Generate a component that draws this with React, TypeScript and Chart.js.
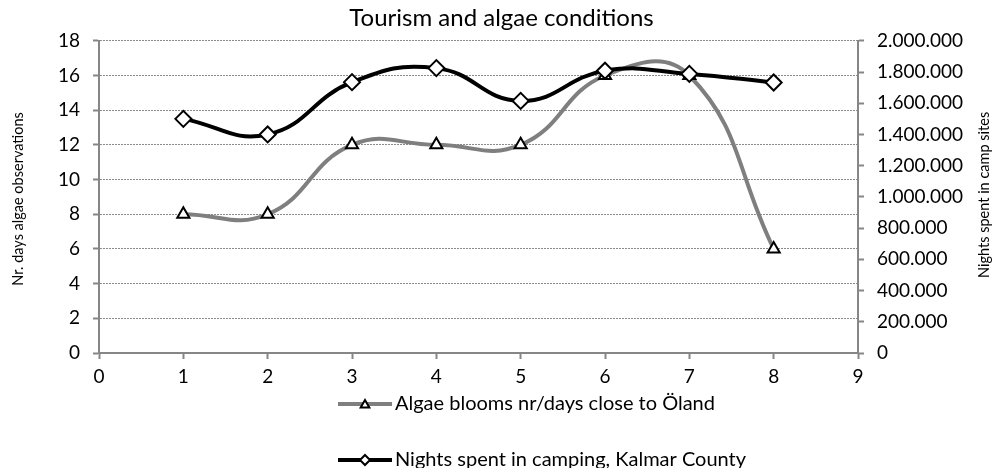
import { useEffect, useRef } from 'react';
import { Chart, registerables } from 'chart.js';

Chart.register(...registerables);

const xValues = [1, 2, 3, 4, 5, 6, 7, 8];
const algaeDays = [8, 8, 12, 12, 12, 16, 16, 6];
const campingNights = [1500000, 1400000, 1735000, 1825000, 1615000, 1808000, 1788000, 1733000];

const titleText = 'Tourism and algae conditions';
const leftTitle = 'Nr. days algae observations';
const rightTitle = 'Nights spent in camp sites';
const algaeLabel = 'Algae blooms nr/days close to Öland';
const nightsLabel = 'Nights spent in camping, Kalmar County';

const FONT = 'Lato, "Open Sans", sans-serif';
const AXIS_GRAY = '#868686';
const ALGAE_GRAY = '#7f7f7f';

const fmt = (n: number) => String(Math.round(n)).replace(/\B(?=(\d{3})+(?!\d))/g, '.');

function drawTriangle(ctx: CanvasRenderingContext2D, x: number, y: number, r: number) {
  ctx.beginPath();
  for (let i = 0; i < 3; i++) {
    const a = (i * 2 * Math.PI) / 3;
    const px = x + Math.sin(a) * r;
    const py = y - Math.cos(a) * r;
    if (i === 0) ctx.moveTo(px, py);
    else ctx.lineTo(px, py);
  }
  ctx.closePath();
  ctx.fill();
  ctx.stroke();
}

function drawDiamond(ctx: CanvasRenderingContext2D, x: number, y: number, r: number) {
  ctx.beginPath();
  ctx.moveTo(x, y - r);
  ctx.lineTo(x + r, y);
  ctx.lineTo(x, y + r);
  ctx.lineTo(x - r, y);
  ctx.closePath();
  ctx.fill();
  ctx.stroke();
}

const overlayPlugin = {
  id: 'overlay',
  afterDraw(chart: any) {
    const { ctx, chartArea } = chart;
    ctx.save();
    ctx.fillStyle = '#000';
    ctx.font = `14.5px ${FONT}`;
    ctx.textAlign = 'center';
    ctx.textBaseline = 'middle';
    const cy = (chartArea.top + chartArea.bottom) / 2;
    ctx.save();
    ctx.translate(18, cy + 2);
    ctx.rotate(-Math.PI / 2);
    ctx.fillText(leftTitle, 0, 0);
    ctx.restore();
    ctx.save();
    ctx.translate(chart.width - 19, cy - 2);
    ctx.rotate(-Math.PI / 2);
    ctx.fillText(rightTitle, 0, 0);
    ctx.restore();

    // legend
    const x0 = 338;
    const lineLen = 54;
    const rows = [
      { label: algaeLabel, color: ALGAE_GRAY, marker: 'tri', y: chartArea.bottom + 51 },
      { label: nightsLabel, color: '#000', marker: 'dia', y: chartArea.bottom + 107 },
    ];
    ctx.font = `20px ${FONT}`;
    ctx.textAlign = 'left';
    for (const row of rows) {
      ctx.strokeStyle = row.color;
      ctx.lineWidth = 4;
      ctx.beginPath();
      ctx.moveTo(x0, row.y);
      ctx.lineTo(x0 + lineLen, row.y);
      ctx.stroke();
      ctx.fillStyle = '#fff';
      ctx.strokeStyle = '#000';
      ctx.lineWidth = 2;
      if (row.marker === 'tri') drawTriangle(ctx, x0 + lineLen / 2, row.y + 1, 5);
      else drawDiamond(ctx, x0 + lineLen / 2, row.y, 5);
      ctx.fillStyle = '#000';
      ctx.fillText(row.label, x0 + lineLen + 3, row.y);
    }
    ctx.restore();
  },
};

export default function App() {
  const ref = useRef<HTMLCanvasElement | null>(null);

  useEffect(() => {
    if (!ref.current) return;
    const chart = new Chart(ref.current, {
      type: 'line',
      data: {
        datasets: [
          {
            label: nightsLabel,
            data: xValues.map((x, i) => ({ x, y: campingNights[i] })),
            yAxisID: 'y2',
            borderColor: '#000',
            borderWidth: 4,
            tension: 0.45,
            pointStyle: 'rectRot',
            pointRadius: 8,
            pointBorderWidth: 2,
            pointBackgroundColor: '#fff',
            pointBorderColor: '#000',
            order: 0,
          },
          {
            label: algaeLabel,
            data: xValues.map((x, i) => ({ x, y: algaeDays[i] })),
            yAxisID: 'y',
            borderColor: ALGAE_GRAY,
            borderWidth: 4,
            tension: 0.45,
            pointStyle: 'triangle',
            pointRadius: 7,
            pointBorderWidth: 2,
            pointBackgroundColor: '#fff',
            pointBorderColor: '#000',
            order: 1,
          },
        ],
      },
      options: {
        animation: false,
        responsive: false,
        maintainAspectRatio: false,
        layout: { padding: 0 },
        plugins: {
          legend: { display: false },
          tooltip: { enabled: false },
          title: {
            display: true,
            text: titleText,
            color: '#000',
            font: { family: FONT, size: 24, weight: 'normal' },
            padding: { top: 4, bottom: 8 },
          },
        },
        scales: {
          x: {
            type: 'linear',
            min: 0,
            max: 9,
            ticks: { stepSize: 1, color: '#000', font: { family: FONT, size: 19 }, padding: 6 },
            grid: { drawOnChartArea: false, tickLength: 6, tickColor: AXIS_GRAY, tickWidth: 2 },
            border: { color: AXIS_GRAY, width: 2 },
            afterFit: (s: any) => { s.height = 115; },
          },
          y: {
            position: 'left',
            min: 0,
            max: 18,
            ticks: { stepSize: 2, color: '#000', font: { family: FONT, size: 19 }, padding: 13 },
            grid: { color: '#8a8a8a', lineWidth: 1, tickLength: 6, tickColor: AXIS_GRAY, tickWidth: 2, tickBorderDash: [] },
            border: { color: AXIS_GRAY, width: 2, dash: [2, 1] },
            afterFit: (s: any) => { s.width = 99; },
          },
          y2: {
            position: 'right',
            min: 0,
            max: 2000000,
            ticks: { stepSize: 200000, color: '#000', font: { family: FONT, size: 19 }, padding: 13, callback: (v: any) => fmt(Number(v)) },
            grid: { drawOnChartArea: false, tickLength: 6, tickColor: AXIS_GRAY, tickWidth: 2 },
            border: { color: AXIS_GRAY, width: 2 },
            afterFit: (s: any) => { s.width = 145; },
          },
        },
      },
      plugins: [overlayPlugin],
    } as any);
    return () => chart.destroy();
  }, []);

  return (
    <div style={{ position: 'absolute', left: 0, top: 0, width: 1003, height: 468, background: '#fff' }}>
      <canvas ref={ref} width={1003} height={468} style={{ display: 'block' }} />
    </div>
  );
}
